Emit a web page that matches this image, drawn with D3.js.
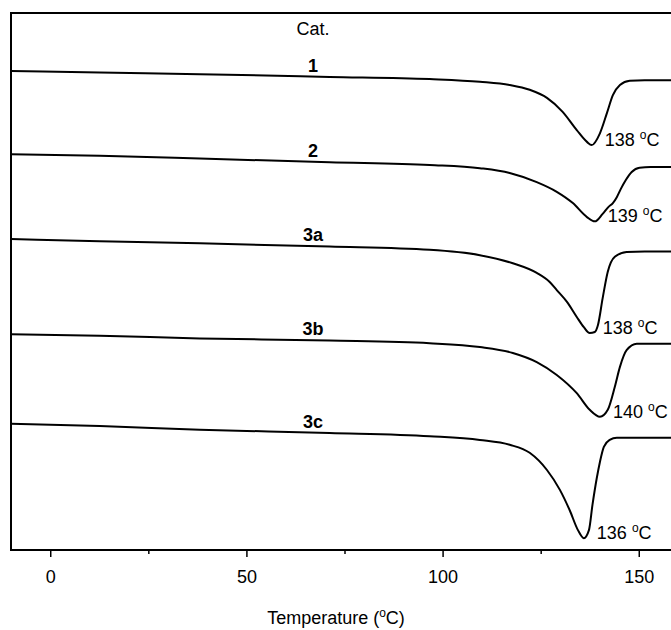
<!DOCTYPE html>
<html>
<head>
<meta charset="utf-8">
<script src="https://cdn.jsdelivr.net/npm/d3@7"></script>
<style>
  body { margin: 0; background: #fff; }
  svg { display: block; font-family: Arial, "Liberation Sans", sans-serif; }
  .trace { fill: none; stroke: #000; stroke-width: 2; }
</style>
</head>
<body>
<div id="chart"></div>
<script>
// DSC cooling traces, temperature (ºC) vs heat flow (a.u., stacked)
const cat1 = [[-10, 8.92], [12.6, 8.89], [38.1, 8.86], [71.2, 8.81], [96.7, 8.77], [109.5, 8.72], [117.1, 8.66], [122.2, 8.57], [126.6, 8.42], [130.6, 8.16], [134.2, 7.82], [136.8, 7.6], [138.0, 7.54], [140.1, 7.76], [141.9, 8.14], [143.4, 8.47], [145.2, 8.66], [147.7, 8.74], [151.5, 8.75], [160, 8.75]]
const cat2 = [[-10, 7.37], [12.6, 7.34], [38.1, 7.29], [71.2, 7.22], [96.7, 7.17], [109.5, 7.11], [117.1, 7.02], [124.0, 6.85], [129.1, 6.67], [133.2, 6.46], [136.8, 6.2], [138.8, 6.12], [140.8, 6.26], [142.3, 6.39], [143.4, 6.46], [144.4, 6.57], [145.4, 6.72], [146.7, 6.89], [148.2, 7.04], [150.2, 7.12], [153, 7.13], [160, 7.13]]
const cat3a = [[-10, 5.79], [12.6, 5.75], [38.1, 5.71], [71.2, 5.65], [96.7, 5.59], [109.5, 5.49], [117.9, 5.34], [124.0, 5.16], [127.3, 4.99], [129.1, 4.84], [131.7, 4.62], [134.2, 4.34], [136.0, 4.15], [137.5, 4.04], [138.8, 4.06], [139.6, 4.19], [140.8, 4.69], [142.1, 5.18], [143.9, 5.46], [146.9, 5.55], [151.5, 5.56], [160, 5.56]]
const cat3b = [[-10, 4.02], [12.6, 3.99], [38.1, 3.94], [71.2, 3.9], [96.7, 3.85], [109.5, 3.78], [117.9, 3.67], [124.0, 3.5], [129.1, 3.26], [134.2, 2.92], [137.5, 2.61], [140.1, 2.48], [142.1, 2.61], [143.9, 3.04], [145.2, 3.41], [146.9, 3.72], [149.5, 3.84], [160, 3.84]]
const cat3c = [[-10, 2.35], [12.6, 2.31], [38.1, 2.24], [71.2, 2.18], [96.7, 2.12], [109.5, 2.05], [117.1, 1.96], [122.2, 1.81], [126.6, 1.49], [129.9, 1.12], [132.4, 0.74], [134.5, 0.37], [136.0, 0.22], [137.3, 0.37], [138.2, 0.84], [139.3, 1.34], [140.1, 1.64], [141.1, 1.92], [142.6, 2.05], [144.4, 2.09], [160, 2.09]]

const catalysts = ['1', '2', '3a', '3b', '3c']
const traces = [cat1, cat2, cat3a, cat3b, cat3c]
const peakLabels = ['138', '139', '138', '140', '136']
const xTicks = [0, 50, 100, 150]
const xMinorTicks = [25, 75, 125]

const width = 671
const height = 630
const LABEL_T = 67 // where the catalyst names sit along the trace

const svg = d3.select('#chart').append('svg').attr('width', width).attr('height', height)

// right edge of the frame falls outside the picture
const x = d3.scaleLinear().domain([-10, 160]).range([11, 678])
const y = d3.scaleLinear().domain([0, 10]).range([550, 13])

// frame
svg.append('rect')
	.attr('x', x(-10)).attr('y', y(10))
	.attr('width', x(160) - x(-10)).attr('height', y(0) - y(10))
	.attr('fill', 'none').attr('stroke', '#000').attr('stroke-width', 2)

// x axis
const xaxis = svg.append('g').attr('transform', `translate(0,${y(0)})`)
xaxis.call(d3.axisBottom(x).tickValues(xTicks).tickSize(7).tickPadding(13))
xaxis.append('g').call(d3.axisBottom(x).tickValues(xMinorTicks).tickSize(4).tickFormat(''))
xaxis.selectAll('.domain').remove()
xaxis.selectAll('line').attr('stroke', '#000').attr('stroke-width', 1.5)
xaxis.selectAll('text').attr('font-size', 18).attr('fill', '#000').attr('font-family', null)

const title = svg.append('text')
	.attr('x', 336).attr('y', 624)
	.attr('text-anchor', 'middle').attr('font-size', 18)
title.append('tspan').text('Temperature (')
title.append('tspan').attr('dy', -7).attr('font-size', 12).text('o')
title.append('tspan').attr('dy', 7).text('C)')

// traces
const line = d3.line().x(d => x(d[0])).y(d => y(d[1])).curve(d3.curveMonotoneX)
svg.append('g').selectAll('path')
	.data(traces)
	.join('path')
	.attr('class', 'trace')
	.attr('d', line)

// header + catalyst names
svg.append('text')
	.attr('x', x(LABEL_T)).attr('y', y(10) + 22)
	.attr('text-anchor', 'middle').attr('font-size', 18)
	.text('Cat.')

const yAt = (trace, t) => {
	const i = d3.bisector(d => d[0]).right(trace, t)
	const a = trace[i - 1], b = trace[i]
	return a[1] + (b[1] - a[1]) * (t - a[0]) / (b[0] - a[0])
}

svg.append('g').selectAll('text')
	.data(traces)
	.join('text')
	.attr('x', x(LABEL_T))
	.attr('y', d => y(yAt(d, LABEL_T)) - 5)
	.attr('text-anchor', 'middle').attr('font-size', 18).attr('font-weight', 'bold')
	.text((_, i) => catalysts[i])

// peak temperatures
const peaks = svg.append('g').selectAll('text')
	.data(traces)
	.join('text')
	.attr('x', d => x(d3.least(d, p => p[1])[0]) + 13)
	.attr('y', d => y(d3.min(d, p => p[1])) + 1)
	.attr('font-size', 18)
peaks.append('tspan').text((_, i) => peakLabels[i] + ' ')
peaks.append('tspan').attr('dy', -7).attr('font-size', 12).text('o')
peaks.append('tspan').attr('dy', 7).text('C')
</script>
</body>
</html>
